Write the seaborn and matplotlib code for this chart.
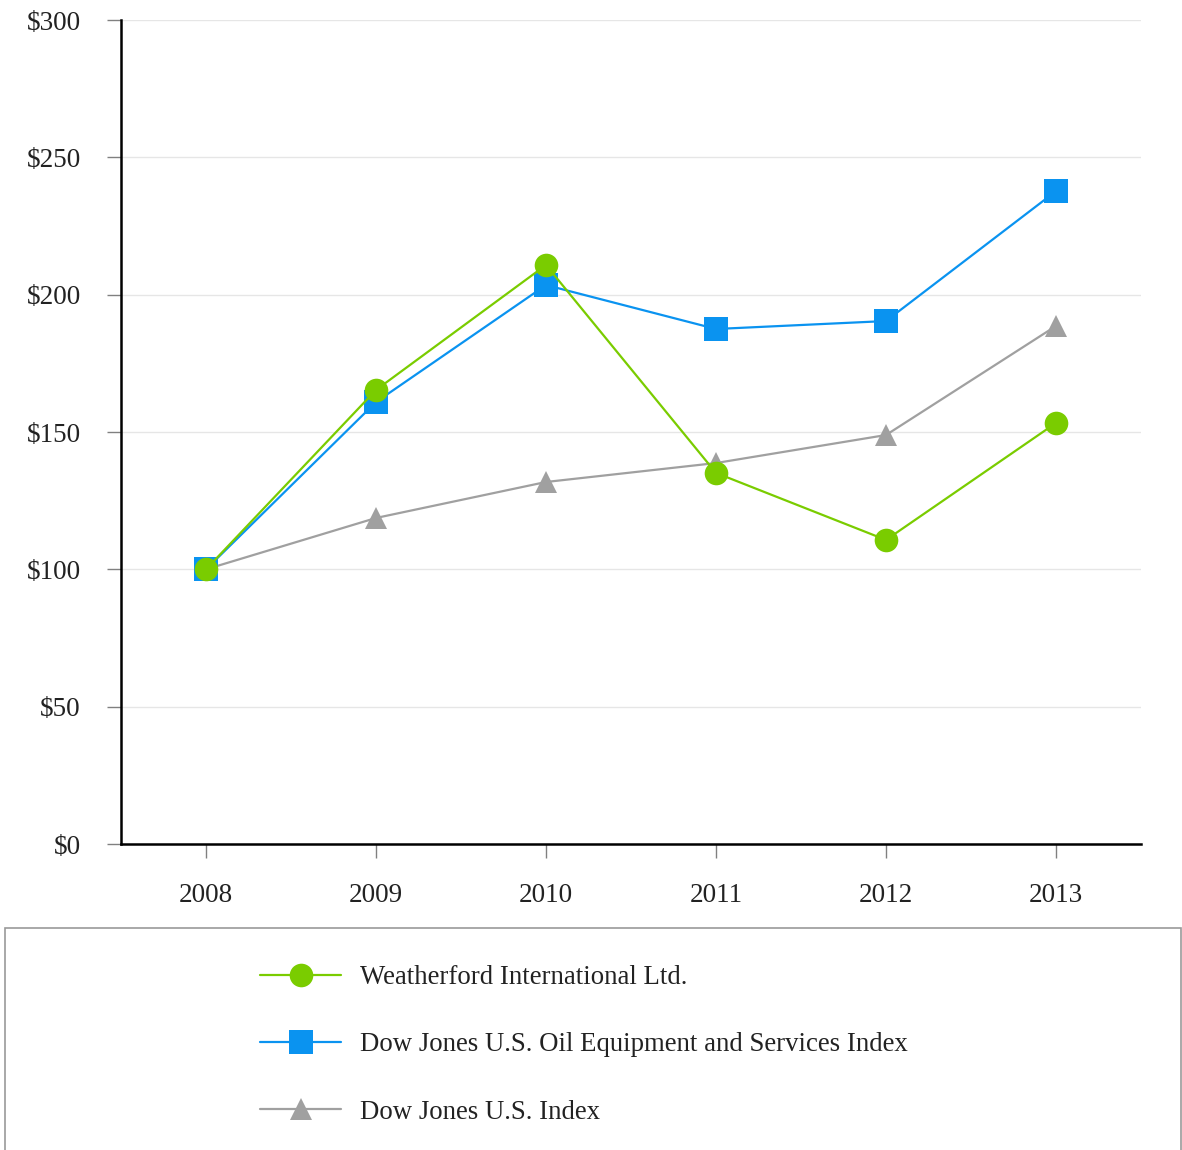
import matplotlib
matplotlib.use("Agg")
import matplotlib.pyplot as plt
import seaborn as sns
import pandas as pd
from matplotlib.patches import Rectangle
from matplotlib.lines import Line2D

years = ["2008", "2009", "2010", "2011", "2012", "2013"]
weatherford = [100, 165.3, 210.8, 135.1, 110.7, 153.3]
oil_equipment = [100, 160.9, 203.5, 187.5, 190.4, 237.7]
dj_us = [100, 118.7, 131.8, 138.7, 148.9, 188.6]
series_names = ["Weatherford International Ltd.",
                "Dow Jones U.S. Oil Equipment and Services Index",
                "Dow Jones U.S. Index"]
y_ticks = [0, 50, 100, 150, 200, 250, 300]

colors = {series_names[0]: "#7ACC00", series_names[1]: "#0A93F0", series_names[2]: "#A0A0A0"}
markers = {series_names[0]: "o", series_names[1]: "s", series_names[2]: "^"}
msizes = {series_names[0]: 17, series_names[1]: 17, series_names[2]: 16.5}

sns.set_theme(style="white")
plt.rcParams['font.family'] = ['Liberation Serif', 'DejaVu Serif']

fig = plt.figure(figsize=(11.82, 11.5), dpi=100)
ax = fig.add_axes([121/1182, 1-844/1150, (1141-121)/1182, (844-20)/1150])

vals = {series_names[0]: weatherford, series_names[1]: oil_equipment, series_names[2]: dj_us}
xpos = list(range(len(years)))
# draw bottom-most first
for name in [series_names[2], series_names[1], series_names[0]]:
    df = pd.DataFrame({"x": xpos, "y": vals[name]})
    sns.lineplot(data=df, x="x", y="y", ax=ax, color=colors[name], marker=markers[name],
                 markersize=msizes[name], markeredgewidth=0, linewidth=1.6, legend=False)

ax.set_xlim(-0.5, 5.5)
ax.set_ylim(0, 300)
ax.set_xticks(xpos)
ax.set_xticklabels(years)
ax.set_yticks(y_ticks)
ax.set_yticklabels([f"${v}" for v in y_ticks])
ax.set_xlabel("")
ax.set_ylabel("")
ax.grid(axis="y", color="#E6E6E6", linewidth=1)
ax.set_axisbelow(True)
for s in ["top", "right"]:
    ax.spines[s].set_visible(False)
for s in ["left", "bottom"]:
    ax.spines[s].set_color("black")
    ax.spines[s].set_linewidth(1.8)
ax.tick_params(axis="both", which="major", labelsize=19.5, colors="#808080",
               labelcolor="#222222", length=10, width=1, direction="out")
ax.tick_params(axis="x", pad=18)
ax.tick_params(axis="y", pad=19)
ax.xaxis.set_ticks_position("bottom")
ax.yaxis.set_ticks_position("left")

# legend box
fig.patches.append(Rectangle((5/1182, -0.01), (1181-5)/1182, 1-928/1150 + 0.01,
                             transform=fig.transFigure, fill=False,
                             edgecolor="#9A9A9A", linewidth=1.2))
handles = [Line2D([], [], color=colors[n], marker=markers[n], markersize=msizes[n],
                  markeredgewidth=0, linewidth=1.6) for n in series_names]
leg = fig.legend(handles, series_names, loc="upper left",
                 bbox_to_anchor=(247/1182, 1-952/1150), frameon=False,
                 fontsize=19.3, handlelength=3.0, handletextpad=0.72,
                 labelspacing=1.57, borderpad=0)
for t in leg.get_texts():
    t.set_color("#222222")

fig.savefig("out.png", dpi=100)
